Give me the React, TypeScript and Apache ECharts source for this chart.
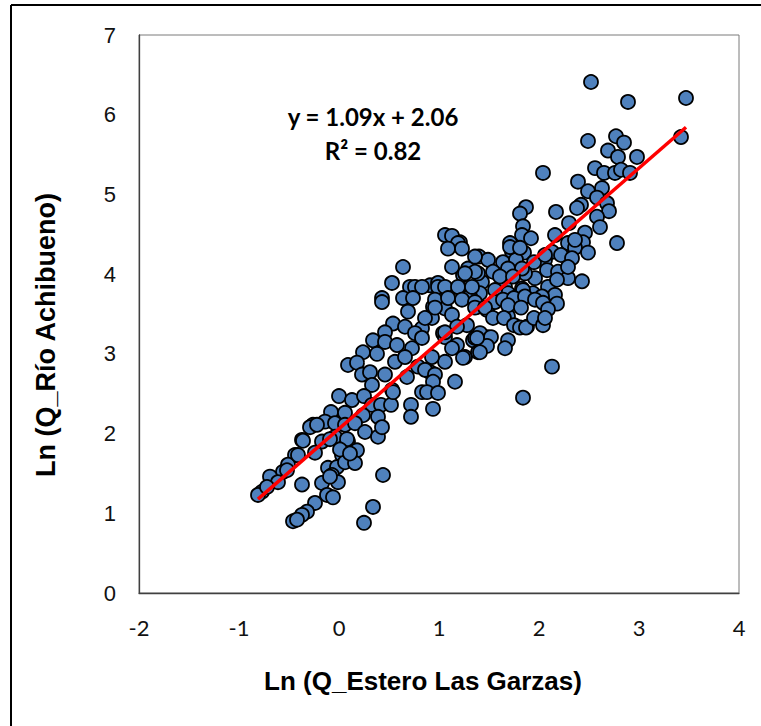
import React, { useEffect, useRef } from "react";
import * as echarts from "echarts";

// Ln of daily flows: Estero Las Garzas (x) vs Río Achibueno (y)
const pointsX: number[] = [
  2.52, 2.89, 3.47, 3.42, 2.49, 2.77, 2.85, 2.69, 2.79, 2.98, 2.56, 2.65, 2.76, 2.82, 2.91, 2.04,
  2.39, 2.49, 2.63, 2.58, 2.68, 2.70, 2.42, 2.38, 1.87, 1.81, 2.17, 2.30, 2.58, 2.61, 1.84, 1.83,
  1.92, 2.16, 2.46, 2.44, 2.78, 2.29, 2.36, 2.49, 1.71, 1.73, 1.85, 2.13, 2.06, 2.22, 2.33, 1.40,
  1.49, 1.64, 1.77, 1.54, 1.95, 1.96, 2.08, 2.19, 2.29, 2.43, 1.43, 1.66, 1.83, 2.09, 1.76, 1.86,
  1.69, 2.16, 1.39, 1.41, 1.56, 1.79, 1.94, 2.03, 2.18, 2.29, 2.36, 2.06,
  1.21, 1.71, 1.81, 1.29, 1.36, 1.69, 1.83, 1.24, 1.61, 1.74, 1.84, 0.91, 0.99, 0.94, 1.06, 1.21,
  1.31, 1.38, 1.48, 1.56, 1.64, 1.69, 1.88, 1.04, 1.28, 1.34, 1.48, 1.18, 0.91,
  1.06, 1.13, 1.19, 1.09, 1.23, 1.36, 0.64, 1.13, 1.26, 0.53, 0.71, 0.76, 0.83, 0.99, 1.06, 1.19,
  1.33, 0.43,
  0.43, 0.64, 0.74, 0.96, 1.09, 1.23, 1.36, 0.69, 0.93, 1.13, 0.54, 0.66, 0.83, 0.76, 1.18, 1.36,
  0.46, 0.34, 0.46, 0.58, 0.73, 1.06, 1.13, 1.26, 1.36, 1.06, 0.24, 0.38, 0.56, 0.66, 0.09, 0.18,
  0.23, 0.31, 0.46, 0.33, 0.68, 0.79, 0.86, 0.96, 0.94, 1.16, 0.83, 0.88, 0.99, 0.53, 0.72, 0.72,
  0.94, 0.00, 0.13, 0.25, 0.33, 0.42, 0.52, -0.08, 0.06, 0.24, 0.39, -0.26, -0.14, -0.04, 0.06, 0.16,
  0.26, 0.39, -0.37, -0.17, -0.04, 0.09, 0.18, -0.44, -0.24, 0.03, -0.51, -0.11, -0.02, 0.06, 0.16, -0.56,
  -0.69, -0.61, -0.77, -0.81, -0.72, -0.37, -0.17, -0.07, -0.01, -0.12, -0.06, 0.44, -0.24, -0.32, -0.37, -0.46,
  -0.42, 0.34, 0.25, 1.24, 1.39, 0.96, 0.86, 1.06, 0.83, 0.93,
  1.75, 1.86, 1.96, 2.04, 2.18, 2.09, 1.46, 1.69, 1.82, 1.54, 1.65, 1.75, 1.81, 1.87, 1.95, 2.04,
  2.06, 1.41, 1.52, 1.48, 1.41, 1.69, 1.66, 2.13, 1.84, 1.38,
  -0.29, -0.22, -0.36, -0.41, -0.52, -0.09, -0.09, 0.08, 0.01, 0.11, 0.43, 0.54,
];

const pointsY: number[] = [
  6.41, 6.16, 6.21, 5.72, 5.67, 5.73, 5.65, 5.55, 5.47, 5.47, 5.33, 5.27, 5.27, 5.31, 5.27, 5.27,
  5.16, 5.04, 5.08, 4.96, 4.89, 4.79, 4.87, 4.83, 4.84, 4.76, 4.78, 4.64, 4.72, 4.59, 4.60, 4.49,
  4.45, 4.49, 4.52, 4.40, 4.39, 4.39, 4.33, 4.27, 4.39, 4.28, 4.27, 4.28, 4.18, 4.24, 4.20, 4.22,
  4.18, 4.15, 4.18, 4.03, 4.15, 3.95, 4.05, 4.03, 3.95, 3.91, 3.90, 3.84, 3.82, 3.84, 4.01, 4.01,
  3.76, 3.74, 4.01, 3.76, 3.80, 3.72, 3.76, 3.72, 3.93, 4.09, 4.43, 4.24,
  4.40, 4.34, 4.33, 4.07, 4.03, 4.07, 4.07, 3.99, 3.97, 3.97, 3.80, 3.86, 3.89, 3.59, 3.57, 3.82,
  3.72, 3.59, 3.55, 3.65, 3.68, 3.47, 3.34, 3.26, 3.36, 3.17, 3.21, 3.11, 2.77,
  4.49, 4.48, 4.39, 4.32, 4.32, 4.22, 4.09, 4.09, 4.01, 3.89, 3.84, 3.84, 3.84, 3.84, 3.84, 3.84,
  3.84, 3.70,
  3.65, 3.70, 3.70, 3.68, 3.70, 3.68, 3.65, 3.53, 3.45, 3.49, 3.38, 3.34, 3.32, 3.26, 3.34, 3.58,
  3.27, 3.17, 3.15, 3.11, 3.07, 3.21, 3.07, 2.96, 3.20, 2.90, 3.02, 3.00, 2.90, 2.96, 2.86, 2.89,
  2.74, 2.77, 2.74, 2.61, 2.71, 2.84, 2.80, 2.74, 2.65, 2.65, 2.52, 2.52, 2.51, 2.55, 2.36, 2.21,
  2.31, 2.47, 2.42, 2.47, 2.36, 2.36, 2.36, 2.27, 2.26, 2.23, 2.21, 2.11, 2.15, 2.13, 2.11, 2.13,
  2.02, 1.96, 1.92, 1.90, 1.96, 1.90, 1.79, 1.73, 1.76, 1.73, 1.61, 1.57, 1.58, 1.64, 1.63, 1.52,
  1.46, 1.39, 1.27, 1.23, 1.33, 1.36, 1.38, 1.48, 1.39, 1.23, 1.20, 1.48, 1.13, 1.02, 0.98, 0.90,
  0.92, 1.08, 0.88, 2.95, 3.02, 3.58, 3.45, 3.27, 3.20, 2.96,
  3.70, 3.72, 3.68, 3.64, 3.63, 3.56, 3.58, 3.61, 3.58, 3.45, 3.45, 3.36, 3.33, 3.33, 3.45, 3.36,
  3.45, 3.26, 3.21, 3.10, 3.02, 3.17, 3.07, 2.84, 2.45, 3.20,
  2.08, 2.11, 1.91, 1.73, 1.54, 1.46, 1.93, 1.93, 1.80, 1.75, 2.08, 2.52,
];

// Linear fit shown on the chart
const fitSlope = 1.09;
const fitIntercept = 2.06;
const rSquared = 0.82;
const fitRange: number[] = [-0.81, 3.47];

const xTicks = { min: -2, max: 4, step: 1 };
const yTicks = { min: 0, max: 7, step: 1 };

const xTitle = "Ln (Q_Estero Las Garzas)";
const yTitle = "Ln (Q_Río Achibueno)";

export default function App() {
  const ref = useRef<HTMLDivElement>(null);

  useEffect(() => {
    document.body.style.margin = "0";
    if (!ref.current) return;
    const chart = echarts.init(ref.current, undefined, { renderer: "svg" });

    const scatterData = pointsX.map((x, i) => [x, pointsY[i]]);
    const fitData = fitRange.map((x) => [x, fitSlope * x + fitIntercept]);

    chart.setOption({
      animation: false,
      backgroundColor: "#ffffff",
      grid: {
        left: 139,
        top: 35,
        width: 600,
        height: 558,
        show: true,
        borderColor: "#7a7a7a",
        borderWidth: 1,
        backgroundColor: "transparent",
      },
      xAxis: {
        type: "value",
        min: xTicks.min,
        max: xTicks.max,
        interval: xTicks.step,
        axisLine: { show: true, onZero: false, lineStyle: { color: "#404040", width: 1.3 } },
        axisTick: { show: false },
        splitLine: { show: false },
        axisLabel: {
          margin: 23,
          fontFamily: "Lato",
          fontSize: 22,
          color: "#111",
        },
      },
      yAxis: {
        type: "value",
        min: yTicks.min,
        max: yTicks.max,
        interval: yTicks.step,
        axisLine: { show: true, onZero: false, lineStyle: { color: "#404040", width: 1.3 } },
        axisTick: { show: false },
        splitLine: { show: false },
        axisLabel: {
          margin: 23,
          fontFamily: "Liberation Sans",
          fontSize: 22,
          color: "#111",
        },
      },
      series: [
        {
          type: "scatter",
          data: scatterData,
          symbol: "circle",
          symbolSize: 14,
          itemStyle: {
            color: "#4F81BD",
            borderColor: "#000000",
            borderWidth: 1.8,
            opacity: 1,
          },
          z: 2,
        },
        {
          type: "line",
          data: fitData,
          symbol: "none",
          lineStyle: { color: "#FF0000", width: 3.5 },
          z: 3,
        },
      ],
      graphic: [
        {
          type: "line",
          shape: { x1: 11, y1: 5, x2: 11, y2: 726 },
          style: { stroke: "#000", lineWidth: 2 },
        },
        {
          type: "line",
          shape: { x1: 11, y1: 5, x2: 761, y2: 5 },
          style: { stroke: "#000", lineWidth: 2 },
        },
        {
          type: "text",
          x: 373,
          y: 116,
          style: {
            text: `y = ${fitSlope.toFixed(2)}x + ${fitIntercept.toFixed(2)}`,
            fontFamily: "Lato",
            fontWeight: "bold",
            fontSize: 24,
            fill: "#000",
            align: "center",
            verticalAlign: "middle",
          },
        },
        {
          type: "text",
          x: 373,
          y: 150,
          style: {
            text: `R² = ${rSquared.toFixed(2)}`,
            fontFamily: "Lato",
            fontWeight: "bold",
            fontSize: 24,
            fill: "#000",
            align: "center",
            verticalAlign: "middle",
          },
        },
        {
          type: "text",
          x: 423,
          y: 681,
          style: {
            text: xTitle,
            fontFamily: "Liberation Sans",
            fontWeight: "bold",
            fontSize: 26,
            fill: "#000",
            align: "center",
            verticalAlign: "middle",
          },
        },
        {
          type: "text",
          x: 46,
          y: 335,
          rotation: Math.PI / 2,
          style: {
            text: yTitle,
            fontFamily: "Liberation Sans",
            fontWeight: "bold",
            fontSize: 27,
            fill: "#000",
            align: "center",
            verticalAlign: "middle",
          },
        },
      ],
    });

    return () => chart.dispose();
  }, []);

  return <div ref={ref} style={{ width: 761, height: 726 }} />;
}
